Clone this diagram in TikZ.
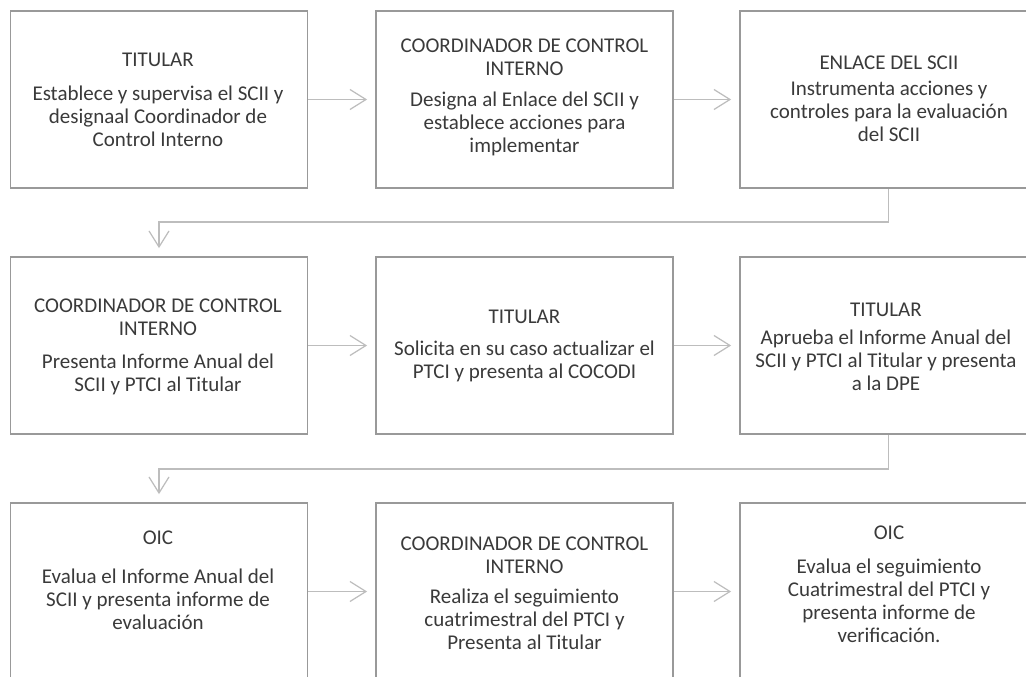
\documentclass[tikz,border=0pt]{standalone}
\usepackage{fontspec}
\setmainfont{Carlito}
\usetikzlibrary{arrows.meta}
\definecolor{boxline}{HTML}{999999}
\definecolor{connline}{HTML}{BDBDBD}
\definecolor{txt}{HTML}{3A3A3A}
\tikzset{
  stepbox/.style={draw=boxline, line width=1.8pt, minimum width=297pt, minimum height=177pt, inner sep=0pt},
  steptext/.style={align=center, text=txt, font=\fontsize{21}{23}\selectfont, inner sep=0pt},
  conn/.style={draw=connline, line width=1.4pt, shorten >=8pt,
    -{Straight Barb[length=16pt,width=20pt,line width=1.2pt]}},
}
\begin{document}
\begin{tikzpicture}[x=1pt,y=-1pt]
\useasboundingbox (0,0) rectangle (1026,677);
\clip (0,0) rectangle (1026,677);
\fill[white] (0,0) rectangle (1026,677);
% boxes
\node[stepbox] (b1) at (159,99.5) {};
\node[stepbox] (b2) at (524.5,99.5) {};
\node[stepbox] (b3) at (888.5,99.5) {};
\node[stepbox] (b4) at (159,345.5) {};
\node[stepbox] (b5) at (524.5,345.5) {};
\node[stepbox] (b6) at (888.5,345.5) {};
\node[stepbox] (b7) at (159,591.5) {};
\node[stepbox] (b8) at (524.5,591.5) {};
\node[stepbox] (b9) at (888.5,591.5) {};
% texts
\node[steptext] (t1) at (158,100) {TITULAR\\[11pt]Establece y supervisa el SCII y\\designaal Coordinador de\\Control Interno};
\node[steptext] (t2) at (524.5,97.5) {COORDINADOR DE CONTROL\\INTERNO\\[8pt]Designa al Enlace del SCII y\\establece acciones para\\implementar};
\node[steptext] (t3) at (889,98.5) {ENLACE DEL SCII\\[3pt]Instrumenta acciones y\\controles para la evaluación\\del SCII};
\node[steptext] (t4) at (158,346.5) {COORDINADOR DE CONTROL\\INTERNO\\[10pt]Presenta Informe Anual del\\SCII y PTCI al Titular};
\node[steptext] (t5) at (524.5,345.5) {TITULAR\\[9pt]Solicita en su caso actualizar el\\PTCI y presenta al COCODI};
\node[steptext] (t6) at (886,346.5) {TITULAR\\[5pt]Aprueba el Informe Anual del\\SCII y PTCI al Titular y presenta\\a la DPE};
\node[steptext] (t7) at (158,580) {OIC\\[16pt]Evalua el Informe Anual del\\SCII y presenta informe de\\evaluación};
\node[steptext] (t8) at (524.5,593.5) {COORDINADOR DE CONTROL\\INTERNO\\[7pt]Realiza el seguimiento\\cuatrimestral del PTCI y\\Presenta al Titular};
\node[steptext] (t9) at (889,584) {OIC\\[11pt]Evalua el seguimiento\\Cuatrimestral del PTCI y\\presenta informe de\\verificación.};
% connectors
\draw[conn] (b1.east) -- (b2.west);
\draw[conn] (b2.east) -- (b3.west);
\coordinate (k1) at (159,222);
\draw[conn] (b3.south) |- (k1) -- (b4.north);
\draw[conn] (b4.east) -- (b5.west);
\draw[conn] (b5.east) -- (b6.west);
\coordinate (k2) at (159,469);
\draw[conn] (b6.south) |- (k2) -- (b7.north);
\draw[conn] (b7.east) -- (b8.west);
\draw[conn] (b8.east) -- (b9.west);
\end{tikzpicture}
\end{document}
